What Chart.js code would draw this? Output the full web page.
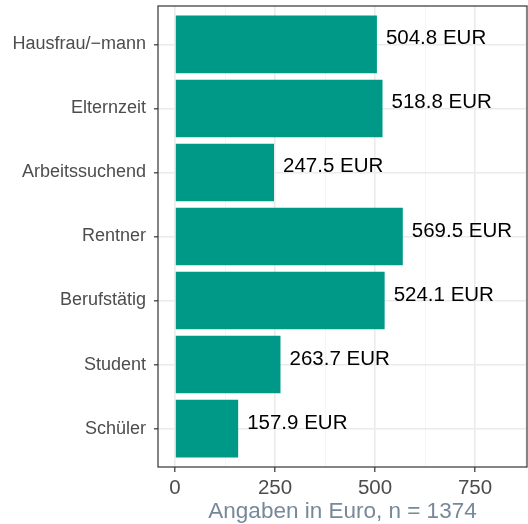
<!DOCTYPE html>
<html lang="de">
<head>
    <meta charset="UTF-8">
    <title>Angaben in Euro</title>
    <script src="https://cdn.jsdelivr.net/npm/chart.js"></script>
    <style>
        html, body { margin: 0; padding: 0; background: #ffffff; }
        .chart-container { width: 528px; height: 524px; position: relative; }
    </style>
</head>
<body>
    <div class="chart-container">
        <canvas id="chartCanvas"></canvas>
    </div>

    <script>
        // Daten
        const kategorien = ['Hausfrau/\u2212mann', 'Elternzeit', 'Arbeitssuchend', 'Rentner', 'Berufstätig', 'Student', 'Schüler'];
        const werte = [504.8, 518.8, 247.5, 569.5, 524.1, 263.7, 157.9];
        const xTicks = [0, 125, 250, 375, 500, 625, 750, 875];
        const xTickLabels = ['0', '', '250', '', '500', '', '750', ''];
        const xTitel = 'Angaben in Euro, n = 1374';

        const n = kategorien.length;
        const FONT = "'Liberation Sans', Arial, sans-serif";

        // Werte-Labels rechts neben den Balken + Rahmen
        const labelPlugin = {
            id: 'barLabels',
            afterDatasetsDraw(chart) {
                const ctx = chart.ctx;
                const meta = chart.getDatasetMeta(0);
                ctx.save();
                ctx.font = '20.5px ' + FONT;
                ctx.fillStyle = '#000000';
                ctx.textAlign = 'left';
                ctx.textBaseline = 'alphabetic';
                meta.data.forEach((bar, i) => {
                    ctx.fillText(werte[i].toFixed(1) + ' EUR', bar.x + 9, bar.y);
                });
                ctx.restore();
            },
            afterDraw(chart) {
                const a = chart.chartArea;
                const ctx = chart.ctx;
                ctx.save();
                ctx.strokeStyle = '#333333';
                ctx.lineWidth = 1.2;
                ctx.strokeRect(a.left, a.top, a.right - a.left, a.bottom - a.top);
                ctx.restore();
            }
        };

        const ctx = document.getElementById('chartCanvas').getContext('2d');
        const chart = new Chart(ctx, {
            type: 'bar',
            data: {
                datasets: [{
                    data: werte.map((v, i) => ({ x: v, y: n - i })),
                    backgroundColor: '#009988',
                    borderWidth: 0,
                    barPercentage: 0.9,
                    categoryPercentage: 1
                }]
            },
            options: {
                indexAxis: 'y',
                responsive: true,
                maintainAspectRatio: false,
                animation: false,
                layout: { padding: { top: 6, right: 1, left: 0, bottom: 0 } },
                plugins: {
                    legend: { display: false },
                    tooltip: { enabled: false }
                },
                scales: {
                    x: {
                        type: 'linear',
                        min: -42.5,
                        max: 880,
                        afterBuildTicks: (scale) => { scale.ticks = xTicks.map(v => ({ value: v })); },
                        afterFit: (scale) => {
                            scale.height = 57;
                            scale.paddingLeft = 0;
                            scale.paddingRight = 0;
                        },
                        grid: {
                            color: (c) => (c.index % 2 === 0 ? '#ebebeb' : '#f2f2f2'),
                            lineWidth: (c) => (c.index % 2 === 0 ? 1.6 : 0.8),
                            tickColor: (c) => (c.index % 2 === 0 ? '#333333' : 'rgba(0,0,0,0)'),
                            tickLength: 5,
                            tickWidth: 1.2,
                            drawTicks: true
                        },
                        border: { display: false },
                        ticks: {
                            autoSkip: false,
                            maxRotation: 0,
                            padding: 4,
                            color: '#4d4d4d',
                            font: { family: FONT, size: 20.5 },
                            callback: (v, i) => xTickLabels[i]
                        },
                        title: {
                            display: true,
                            text: xTitel,
                            color: '#778899',
                            font: { family: FONT, size: 22.5 },
                            padding: { top: 0, bottom: -1 }
                        }
                    },
                    y: {
                        type: 'linear',
                        offset: false,
                        min: 0.4,
                        max: n + 0.6,
                        afterBuildTicks: (scale) => { scale.ticks = kategorien.map((k, i) => ({ value: n - i })); },
                        afterFit: (scale) => {
                            scale.width = 158;
                            scale.paddingTop = 0;
                            scale.paddingBottom = 0;
                        },
                        grid: {
                            offset: false,
                            color: '#ebebeb',
                            lineWidth: 1.6,
                            tickColor: '#333333',
                            tickLength: 4,
                            tickWidth: 1.2
                        },
                        border: { display: false },
                        ticks: {
                            autoSkip: false,
                            padding: 8,
                            color: '#4d4d4d',
                            font: { family: FONT, size: 18 },
                            callback: (v) => kategorien[n - v]
                        }
                    }
                }
            },
            plugins: [labelPlugin]
        });
    </script>
</body>
</html>
